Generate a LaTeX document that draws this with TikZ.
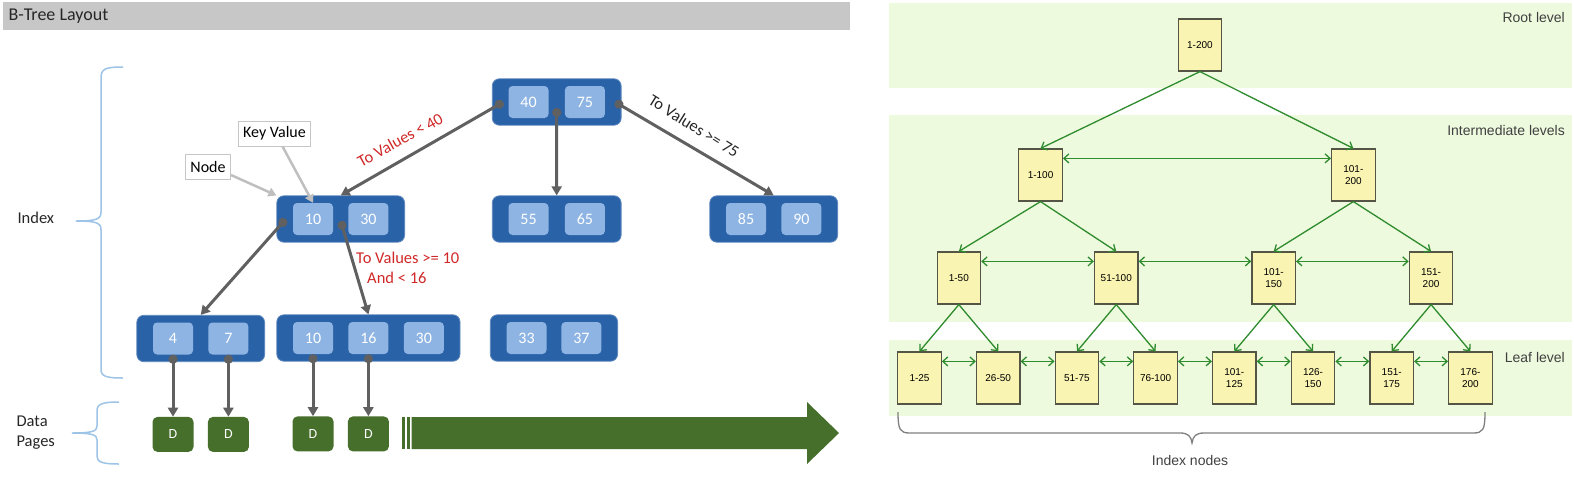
\documentclass[tikz,border=0pt]{standalone}
\usepackage{fontspec}
\setmainfont{Carlito}
\newfontfamily\arialfont{Liberation Sans}
\usetikzlibrary{positioning,calc,fit,backgrounds,arrows.meta}
\definecolor{nodeblue}{RGB}{42,98,168}
\definecolor{keyblue}{RGB}{141,180,226}
\definecolor{pagegreen}{RGB}{70,111,43}
\definecolor{linkgray}{RGB}{96,96,96}
\definecolor{notered}{RGB}{208,40,40}
\definecolor{braceblue}{RGB}{157,195,230}
\definecolor{titlegray}{RGB}{200,199,199}
\definecolor{bandgreen}{RGB}{238,250,222}
\definecolor{boxyellow}{RGB}{250,244,178}
\definecolor{boxedge}{RGB}{85,85,70}
\definecolor{treegreen}{RGB}{46,139,46}

\begin{document}
\begin{tikzpicture}[x=1pt,y=-1pt,
  key/.style={fill=keyblue,rounded corners=4pt,minimum width=40pt,minimum height=32pt,inner sep=0pt,text=white,font=\fontsize{16}{19}\selectfont},
  bnode/.style={fill=nodeblue,draw=nodeblue!75!white,line width=0.8pt,rounded corners=7pt,inner xsep=16pt,inner ysep=7pt},
  dpage/.style={fill=pagegreen,rounded corners=5pt,minimum width=41pt,minimum height=35pt,inner sep=0pt,text=white,font=\fontsize{14}{17}\selectfont},
  link/.style={draw=linkgray,line width=3pt,{Circle[length=9pt]}-{Triangle[length=9pt,width=10pt]}},
  callout/.style={draw=gray!45,fill=white,line width=0.8pt,inner xsep=5pt,minimum height=25pt,font=\fontsize{16}{19}\selectfont},
  pointer/.style={draw=gray!50,line width=2.5pt,-{Triangle[length=8pt,width=9pt]}},
  txt/.style={font=\fontsize{16.5}{20}\selectfont,text=black!85},
  ybox/.style={draw=boxedge,fill=boxyellow,line width=1.2pt,minimum width=43.5pt,minimum height=52pt,inner sep=1pt,align=center,font=\arialfont\fontsize{10}{12}\selectfont},
  treelink/.style={draw=treegreen,line width=1.3pt,-{Straight Barb[length=5pt,width=9pt]}},
  sibling/.style={draw=treegreen,line width=1.3pt,{Straight Barb[length=5pt,width=9pt]}-{Straight Barb[length=5pt,width=9pt]}},
  lvl/.style={font=\arialfont\fontsize{14}{16}\selectfont,text=black!75,inner sep=0pt}]
  \useasboundingbox (0,0) rectangle (1574,480);

  \fill[titlegray] (3,2) rectangle (850,30);
  \node[anchor=west,font=\fontsize{18}{21}\selectfont,text=black!85] (title) at (5,16) {B-Tree Layout};

  \node[txt,anchor=west] (idx) at (14,218) {Index};
  \node[txt,anchor=west,align=left] (dp) at (13,433) {Data\\Pages};
  \draw[braceblue,line width=1.5pt] (123,67) .. controls (105,67) and (101,69) .. (101,78) -- (101,212)
    .. controls (101,219) and (97,221) .. (76,221) .. controls (97,221) and (101,223) .. (101,230) -- (101,369)
    .. controls (101,376) and (105,378) .. (123,378);
  \draw[braceblue,line width=1.5pt] (119,402) .. controls (102,402) and (97,404) .. (97,411) -- (97,426)
    .. controls (97,431) and (93,433) .. (72,433) .. controls (93,433) and (97,435) .. (97,440) -- (97,456)
    .. controls (97,462) and (102,464) .. (119,464);

  \node[key] (k40) at (528.5,102) {40};
  \node[key,right=16pt of k40] (k75) {75};
  \node[key] (k55) at (528.5,219) {55};
  \node[key,right=16pt of k55] (k65) {65};
  \node[key] (k85) at (746,219) {85};
  \node[key,right=15pt of k85] (k90) {90};
  \node[key] (k10) at (313,219) {10};
  \node[key,right=15pt of k10] (k30) {30};
  \node[key] (k4) at (173,338.5) {4};
  \node[key,right=15pt of k4] (k7) {7};
  \node[key] (kk10) at (313,338) {10};
  \node[key,right=15pt of kk10] (k16) {16};
  \node[key,right=15pt of k16] (kk30) {30};
  \node[key] (k33) at (526.5,338) {33};
  \node[key,right=14.5pt of k33] (k37) {37};

  \begin{scope}[on background layer]
    \node[bnode,fit=(k40)(k75)] (top) {};
    \node[bnode,fit=(k55)(k65)] (mid2) {};
    \node[bnode,fit=(k85)(k90)] (mid3) {};
    \node[bnode,fit=(k10)(k30)] (mid1) {};
    \node[bnode,fit=(k4)(k7)] (leaf1) {};
    \node[bnode,fit=(kk10)(kk30)] (leaf2) {};
    \node[bnode,fit=(k33)(k37)] (leaf3) {};
  \end{scope}

  \node[dpage,below=62pt of k4] (p1) {D};
  \node[dpage,below=62pt of k7] (p2) {D};
  \node[dpage,below=62pt of kk10] (p3) {D};
  \node[dpage,below=62pt of k16] (p4) {D};

  \draw[link] ($(k40.west)+(-5,0)$) -- (mid1.north);
  \draw[link] ($(k40.east)!0.5!(k75.west)+(0,6)$) -- (mid2.north);
  \draw[link] ($(k75.east)+(10,0)$) -- (mid3.north);
  \draw[link] ($(k10.west)+(-7,0)$) -- (leaf1.north);
  \draw[link] ($(k10.east)!0.5!(k30.west)+(0,2)$) -- (leaf2.north);
  \foreach \k/\p in {k4/p1,k7/p2,kk10/p3,k16/p4}
    \draw[link] (\k.south) -- (\p.north);

  \node[txt,rotate=29,text=notered] (lt40) at (400,140) {To Values < 40};
  \node[txt,rotate=-32] (lge75) at (694,126) {To Values >= 75};
  \node[txt,text=notered,anchor=north west,align=left,inner sep=0pt] (lge10) at (356,252) {To Values >= 10\\\hspace{11pt}And < 16};

  \node[callout] (kv) at (274.5,133.5) {Key Value};
  \node[callout] (nd) at (208,167) {Node};
  \draw[pointer] ([xshift=8pt]kv.south) -- (k10.north);
  \draw[pointer] ([yshift=-8pt]nd.east) -- (mid1.north west);

  \fill[pagegreen] (411.5,417) -- (807,417) -- (807,402) -- (839,433) -- (807,464) -- (807,449) -- (411.5,449) -- cycle;
  \fill[pagegreen] (401.5,417) rectangle (405,449);
  \fill[pagegreen] (406.5,417) rectangle (410,449);

  \fill[bandgreen] (889,3) rectangle (1572,88);
  \fill[bandgreen] (889,115) rectangle (1572,322);
  \fill[bandgreen] (889,340) rectangle (1572,416);
  \node[lvl,anchor=east] (lv1) at (1565,17) {Root level};
  \node[lvl,anchor=east] (lv2) at (1565,130) {Intermediate levels};
  \node[lvl,anchor=east] (lv3) at (1565,357) {Leaf level};

  \node[ybox] (t1) at (919.5,378) {1-25};
  \foreach \n/\p/\t in {2/1/26-50,3/2/51-75,4/3/76-100,5/4/{101-\\125},6/5/{126-\\150},7/6/{151-\\175},8/7/{176-\\200}}
    \node[ybox,right=34pt of t\p] (t\n) {\t};
  \node[ybox] (m1) at ($(t1)!0.5!(t2)+(0,-100)$) {1-50};
  \node[ybox] (m2) at ($(t3)!0.5!(t4)+(0,-100)$) {51-100};
  \node[ybox] (m3) at ($(t5)!0.5!(t6)+(0,-100)$) {101-\\150};
  \node[ybox] (m4) at ($(t7)!0.5!(t8)+(0,-100)$) {151-\\200};
  \node[ybox] (h1) at ($(m1)!0.5!(m2)+(3,-103)$) {1-100};
  \node[ybox] (h2) at ($(m3)!0.5!(m4)+(1,-103)$) {101-\\200};
  \node[ybox] (rt) at ($(h1)!0.5!(h2)+(3,-130)$) {1-200};

  \foreach \a/\b in {rt/h1,rt/h2,h1/m1,h1/m2,h2/m3,h2/m4,m1/t1,m1/t2,m2/t3,m2/t4,m3/t5,m3/t6,m4/t7,m4/t8}
    \draw[treelink] (\a.south) -- (\b.north);
  \foreach \a/\b in {h1/h2,m1/m2,m2/m3,m3/m4,t1/t2,t2/t3,t3/t4,t4/t5,t5/t6,t6/t7,t7/t8}
    \draw[sibling] ([yshift=-10pt]\a.north east) -- ([yshift=-10pt]\b.north west);

  \draw[gray,line width=1.3pt] (898,412) .. controls (898,430) and (900,433) .. (910,433) -- (1180,433)
    .. controls (1188,433) and (1191,436) .. (1192,443) .. controls (1193,436) and (1196,433) .. (1204,433) -- (1473,433)
    .. controls (1483,433) and (1485,430) .. (1485,412);
  \node[lvl] (inodes) at (1190,460) {Index nodes};
\end{tikzpicture}
\end{document}
